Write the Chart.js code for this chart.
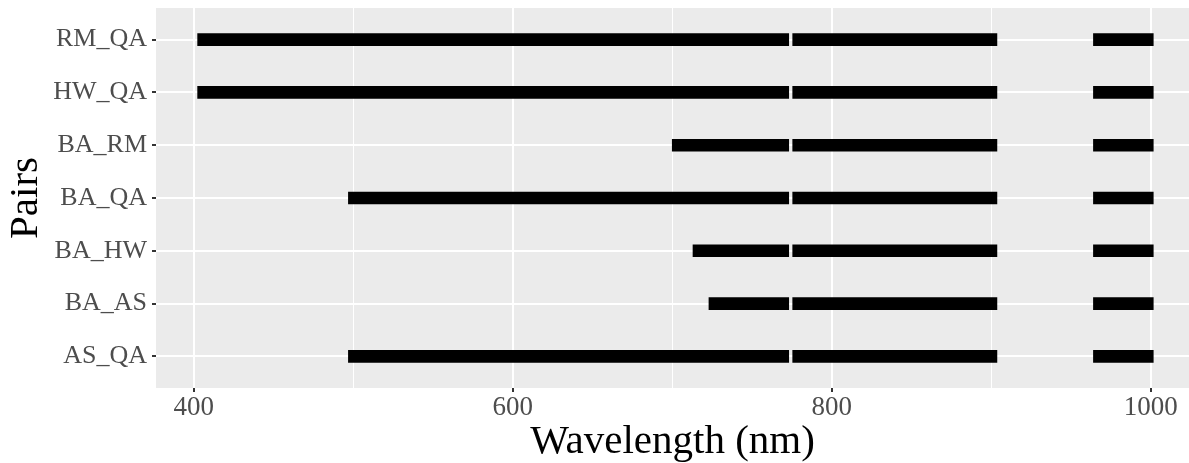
<!DOCTYPE html>
<html>
<head>
<meta charset="utf-8">
<script src="https://cdn.jsdelivr.net/npm/chart.js@4/dist/chart.umd.min.js"></script>
<style>
  html, body { margin: 0; padding: 0; background: #ffffff; }
  #wrap { width: 1189px; height: 463px; position: relative; }
</style>
</head>
<body>
<div id="wrap"><canvas id="c" width="1189" height="463"></canvas></div>
<script>
// Pairs, top to bottom
const pairs = ['RM_QA', 'HW_QA', 'BA_RM', 'BA_QA', 'BA_HW', 'BA_AS', 'AS_QA'];
// Segment 1: start wavelength per pair, common end
const seg1Start = [402.5, 402.5, 700, 497, 713, 723, 497];
const seg1End   = [773, 773, 773, 773, 773, 773, 773];
// Segment 2
const seg2Start = [775.5, 775.5, 775.5, 775.5, 775.5, 775.5, 775.5];
const seg2End   = [903.5, 903.5, 903.5, 903.5, 903.5, 903.5, 903.5];
// Segment 3
const seg3Start = [964, 964, 964, 964, 964, 964, 964];
const seg3End   = [1001.5, 1001.5, 1001.5, 1001.5, 1001.5, 1001.5, 1001.5];
const xTicks = [400, 600, 800, 1000];

function seg(starts, ends) {
  return pairs.map((p, i) => ({ x: [starts[i], ends[i]], y: i }));
}

const panelBg = {
  id: 'panelBg',
  beforeDraw(chart) {
    const { ctx, chartArea: a } = chart;
    ctx.save();
    ctx.fillStyle = '#ebebeb';
    ctx.fillRect(a.left, a.top, a.right - a.left, a.bottom - a.top);
    ctx.restore();
  }
};

const barStyle = {
  backgroundColor: '#000000',
  borderWidth: 0,
  barThickness: 12,
  grouped: false
};

new Chart(document.getElementById('c'), {
  type: 'bar',
  data: {
    datasets: [
      Object.assign({ label: 'seg1', data: seg(seg1Start, seg1End) }, barStyle),
      Object.assign({ label: 'seg2', data: seg(seg2Start, seg2End) }, barStyle),
      Object.assign({ label: 'seg3', data: seg(seg3Start, seg3End) }, barStyle)
    ]
  },
  plugins: [panelBg],
  options: {
    indexAxis: 'y',
    responsive: false,
    animation: false,
    devicePixelRatio: 1,
    layout: { padding: { top: 8, right: 0, bottom: 0, left: 0 } },
    plugins: { legend: { display: false }, tooltip: { enabled: false } },
    scales: {
      x: {
        type: 'linear',
        min: 376.4,
        max: 1023.9,
        offset: false,
        border: { display: false },
        afterFit(s) { s.height = 75; s.paddingLeft = 0; s.paddingRight = 0; },
        ticks: {
          stepSize: 100,
          includeBounds: false,
          autoSkip: false,
          maxRotation: 0,
          padding: 0,
          color: '#4d4d4d',
          font: { family: '"Liberation Serif", "Times New Roman", serif', size: 27 },
          callback: (v) => (xTicks.includes(v) ? String(v) : '')
        },
        grid: {
          offset: false,
          color: '#ffffff',
          lineWidth: (c) => (c.tick && xTicks.includes(c.tick.value) ? 2 : 1),
          tickColor: (c) => (c.tick && xTicks.includes(c.tick.value) ? '#333333' : 'rgba(0,0,0,0)'),
          tickLength: 4,
          drawTicks: true
        },
        title: {
          display: true,
          text: 'Wavelength (nm)',
          color: '#000000',
          font: { family: '"Liberation Serif", "Times New Roman", serif', size: 41, lineHeight: 1 },
          padding: { top: 0, bottom: 0 }
        }
      },
      y: {
        type: 'linear',
        reverse: true,
        min: -0.6,
        max: 6.6,
        offset: false,
        border: { display: false },
        afterFit(s) { s.width = 156; s.paddingTop = 0; s.paddingBottom = 0; },
        ticks: {
          stepSize: 1,
          includeBounds: false,
          autoSkip: false,
          padding: 5,
          color: '#4d4d4d',
          font: { family: '"Liberation Serif", "Times New Roman", serif', size: 26 },
          callback: (v) => (Number.isInteger(v) && pairs[v] !== undefined ? pairs[v] : '')
        },
        grid: {
          offset: false,
          color: '#ffffff',
          lineWidth: 2,
          tickColor: '#333333',
          tickLength: 4
        },
        title: {
          display: true,
          text: 'Pairs',
          color: '#000000',
          font: { family: '"Liberation Serif", "Times New Roman", serif', size: 41, lineHeight: 1 },
          padding: { top: 6, bottom: 0 }
        }
      }
    }
  }
});
</script>
</body>
</html>
